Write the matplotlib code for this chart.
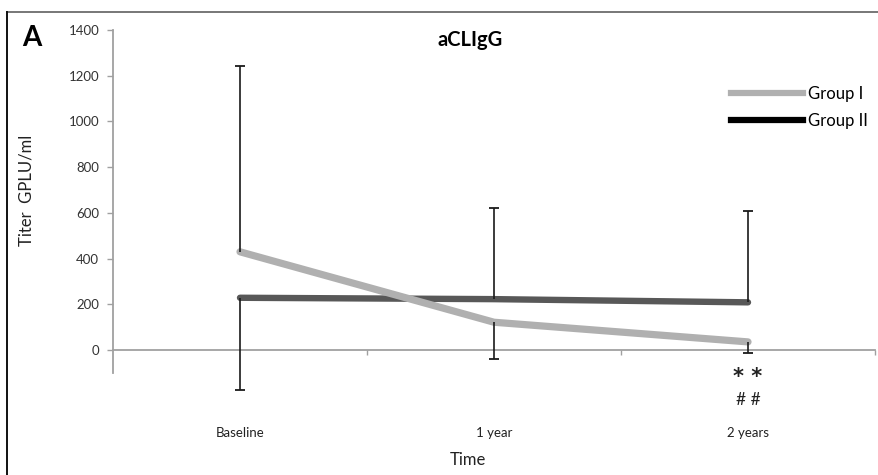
import matplotlib
matplotlib.use("Agg")
import matplotlib.pyplot as plt
from matplotlib.lines import Line2D

plt.rcParams['font.family'] = ['Lato', 'DejaVu Sans']

categories = ["Baseline", "1 year", "2 years"]
group1 = [430, 122, 36]
group2 = [229, 223, 209]
# one-sided error bars as shown
g1_err_low = [0, 161, 48]
g1_err_up = [812, 0, 0]
g2_err_low = [404, 0, 0]
g2_err_up = [0, 400, 400]
yticks = [0, 200, 400, 600, 800, 1000, 1200, 1400]

W, H = 879, 475
fig = plt.figure(figsize=(W / 100, H / 100), dpi=100)
ax = fig.add_axes([113 / W, 1 - 373 / H, (875 - 113) / W, (373 - 30) / H])

x = list(range(len(categories)))
c1 = "#b0b0b0"
c2 = "#585858"
ax.plot(x, group1, color=c1, lw=5.2, solid_capstyle='round', solid_joinstyle='round', zorder=3)
ax.plot(x, group2, color=c2, lw=4.6, solid_capstyle='round', solid_joinstyle='round', zorder=2)

ecol = '#1a1a1a'
for vals, lo, up in [(group1, g1_err_low, g1_err_up), (group2, g2_err_low, g2_err_up)]:
    ax.errorbar(x, vals, yerr=[lo, up], fmt='none', ecolor=ecol,
                elinewidth=1.2, capsize=0, zorder=4, clip_on=False)
    ends_x = []
    ends_y = []
    for i, v in enumerate(vals):
        if lo[i] > 0:
            ends_x.append(x[i]); ends_y.append(v - lo[i])
        if up[i] > 0:
            ends_x.append(x[i]); ends_y.append(v + up[i])
    ax.plot(ends_x, ends_y, ls='none', marker='_', markersize=6.5, mew=1.3,
            color=ecol, zorder=4, clip_on=False)
for art in ax.collections + ax.lines:
    art.set_clip_on(False)

ax.set_xlim(-0.5, 2.5)
ax.set_ylim(-100, 1400)
ax.set_yticks(yticks)
ax.set_yticklabels([str(v) for v in yticks], fontsize=9.5, color='#333333')
ax.tick_params(axis='y', direction='out', length=4, width=1, color='#a0a0a0', pad=6)

for s in ['top', 'right']:
    ax.spines[s].set_visible(False)
ax.spines['left'].set_color('#a0a0a0')
ax.spines['left'].set_linewidth(1.3)
ax.spines['bottom'].set_position(('data', 0))
ax.spines['bottom'].set_color('#a0a0a0')
ax.spines['bottom'].set_linewidth(1.3)

ax.set_xticks(x)
ax.set_xticklabels(categories, fontsize=9.5, color='#222222')
ax.set_xticks([0.5, 1.5, 2.5], minor=True)
ax.tick_params(axis='x', which='major', length=0, pad=55)
ax.tick_params(axis='x', which='minor', direction='out', length=3.5, width=1, color='#a0a0a0')

ax.text(2, -118, "* *", ha='center', va='center', fontsize=15, color='#222222',
        family=['DejaVu Sans'], fontweight='bold', clip_on=False)
ax.text(2, -218, "# #", ha='center', va='center', fontsize=12.5, color='#222222', clip_on=False)

fig.text(470 / W, 1 - 40 / H, "aCLIgG", ha='center', va='center', fontsize=14.5, fontweight='bold')
fig.text(32 / W, 1 - 38 / H, "A", ha='center', va='center', fontsize=20, fontweight='bold')
fig.text(27 / W, 1 - 190 / H, "Titer  GPLU/ml", ha='center', va='center', rotation=90, fontsize=12, color='#222222')
fig.text(468 / W, 1 - 460 / H, "Time", ha='center', va='center', fontsize=12, color='#222222')

handles = [Line2D([], [], color=c1, lw=4.5), Line2D([], [], color='black', lw=4.5)]
fig.legend(handles, ["Group I", "Group II"], loc='upper left',
           bbox_to_anchor=(731 / W, 1 - 86 / H), bbox_transform=fig.transFigure,
           frameon=False, borderpad=0, borderaxespad=0, handlelength=4.3,
           handletextpad=0.3, labelspacing=0.65, fontsize=12)

# figure frame lines (top gray, left black)
fig.add_artist(Line2D([7 / W, 1], [1 - 12 / H, 1 - 12 / H], transform=fig.transFigure, color='#777777', lw=1.4))
fig.add_artist(Line2D([7 / W, 7 / W], [0, 1 - 12 / H], transform=fig.transFigure, color='#111111', lw=1.4))

fig.savefig("out.png", dpi=100)
